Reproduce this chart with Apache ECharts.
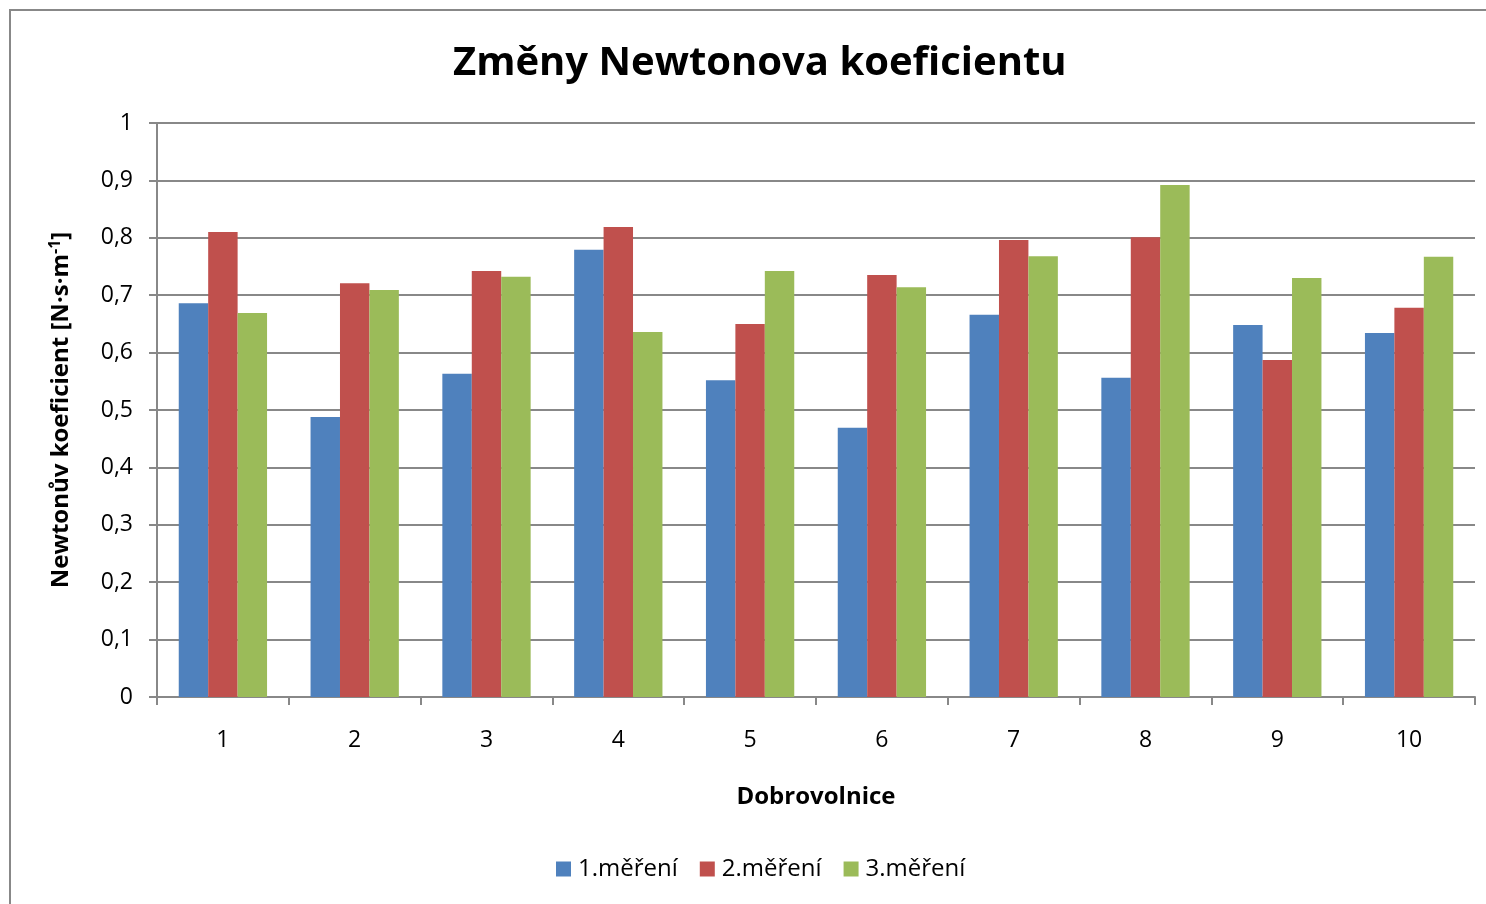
<!DOCTYPE html>
<html>
<head>
<meta charset="utf-8">
<script src="https://cdn.jsdelivr.net/npm/echarts@6/dist/echarts.min.js"></script>
<style>
  html, body { margin: 0; padding: 0; background: #fff; }
  #chart { width: 1486px; height: 904px; }
</style>
</head>
<body>
<div id="chart"></div>
<script>
// data
const categories = ['1', '2', '3', '4', '5', '6', '7', '8', '9', '10'];
const seriesNames = ['1.měření', '2.měření', '3.měření'];
const mereni1 = [0.686, 0.488, 0.563, 0.779, 0.552, 0.469, 0.666, 0.556, 0.648, 0.634];
const mereni2 = [0.810, 0.721, 0.742, 0.819, 0.650, 0.735, 0.796, 0.801, 0.587, 0.678];
const mereni3 = [0.669, 0.709, 0.732, 0.636, 0.742, 0.714, 0.768, 0.892, 0.730, 0.767];

const font = '"Open Sans", "Noto Sans", sans-serif';
const gray = '#888888';
const colors = ['#4f81bd', '#c0504d', '#9bbb59'];

const chart = echarts.init(document.getElementById('chart'));

const makeBar = (name, data, i) => ({
  name: name,
  type: 'bar',
  data: data,
  barGap: '0%',
  barCategoryGap: '33%',
  itemStyle: { color: colors[i] }
});

chart.setOption({
  animation: false,
  textStyle: { fontFamily: font },
  title: {
    text: 'Změny Newtonova koeficientu',
    left: 448,
    top: 39,
    textStyle: { fontSize: 40, fontWeight: 'bold', color: '#000', fontFamily: font }
  },
  graphic: [{
    type: 'rect',
    shape: { x: 10, y: 10, width: 1600, height: 1000 },
    style: { fill: 'none', stroke: gray, lineWidth: 2 },
    silent: true
  }],
  legend: {
    data: seriesNames,
    bottom: 18,
    left: 551,
    itemWidth: 15,
    itemHeight: 15,
    itemGap: 22,
    icon: 'rect',
    textStyle: { fontSize: 24, color: '#000', fontFamily: font, padding: [0, 0, 0, 2] }
  },
  grid: { left: 157, right: 11, top: 123, bottom: 207 },
  xAxis: {
    type: 'category',
    data: categories,
    name: 'Dobrovolnice',
    nameLocation: 'middle',
    nameGap: 88,
    nameTextStyle: { fontSize: 24, fontWeight: 'bold', color: '#000' },
    axisLine: { lineStyle: { color: gray, width: 2 } },
    axisTick: { show: true, length: 8, lineStyle: { color: gray, width: 2 } },
    axisLabel: { fontSize: 23, color: '#000', margin: 32 }
  },
  yAxis: {
    type: 'value',
    min: 0,
    max: 1,
    interval: 0.1,
    name: 'Newtonův koeficient [N·s·m{sup|-1}]',
    nameLocation: 'middle',
    nameGap: 82,
    nameRotate: 90,
    nameTextStyle: {
      fontSize: 24,
      fontWeight: 'bold',
      color: '#000',
      rich: {
        sup: { fontSize: 16, fontWeight: 'bold', color: '#000', verticalAlign: 'top', padding: [0, 0, 12, 0] }
      }
    },
    axisLine: { show: true, lineStyle: { color: gray, width: 2 } },
    axisTick: { show: true, length: 8, lineStyle: { color: gray, width: 2 } },
    axisLabel: {
      fontSize: 23,
      color: '#000',
      margin: 24,
      formatter: (v) => String(Math.round(v * 10) / 10).replace('.', ',')
    },
    splitLine: { lineStyle: { color: gray, width: 2 } }
  },
  series: [
    makeBar(seriesNames[0], mereni1, 0),
    makeBar(seriesNames[1], mereni2, 1),
    makeBar(seriesNames[2], mereni3, 2)
  ]
});
</script>
</body>
</html>
